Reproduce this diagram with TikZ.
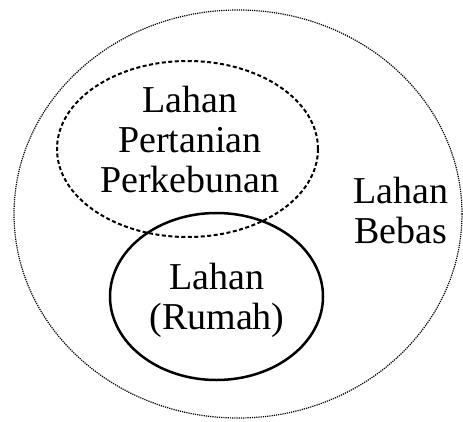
\documentclass[tikz,border=0pt]{standalone}
\usepackage{fontspec}
\setmainfont{Liberation Serif}
\usepackage{tikz}
\usetikzlibrary{
    arrows.meta,
    calc
}

\tikzset{
    label text/.style={align=center, inner sep=0pt,
        font=\fontsize{38}{40}\selectfont}
}

\begin{document}
\begin{tikzpicture}[x=1pt, y=-1pt]
            \useasboundingbox (0,0) rectangle (463,421);

            % Outer region
            \draw[densely dotted, line width=1.2pt] (238,214) ellipse [x radius=224pt, y radius=204pt];

            % Pertanian region
            \draw[line width=2pt, dash pattern=on 4pt off 2.5pt] (187.5,149) ellipse [x radius=130.5pt, y radius=88pt];

            % Rumah region
            \draw[line width=2.5pt] (216.5,296.5) ellipse [x radius=106.5pt, y radius=83.5pt];

            % Labels
            \node[label text] (tani) at (190,139) {Lahan\\Pertanian\\Perkebunan};
            \node[label text] (bebas) at (401,210) {Lahan\\Bebas};
            \node[label text] (rumah) at (217,300) {Lahan\\(Rumah)};
        \end{tikzpicture}
\end{document}
